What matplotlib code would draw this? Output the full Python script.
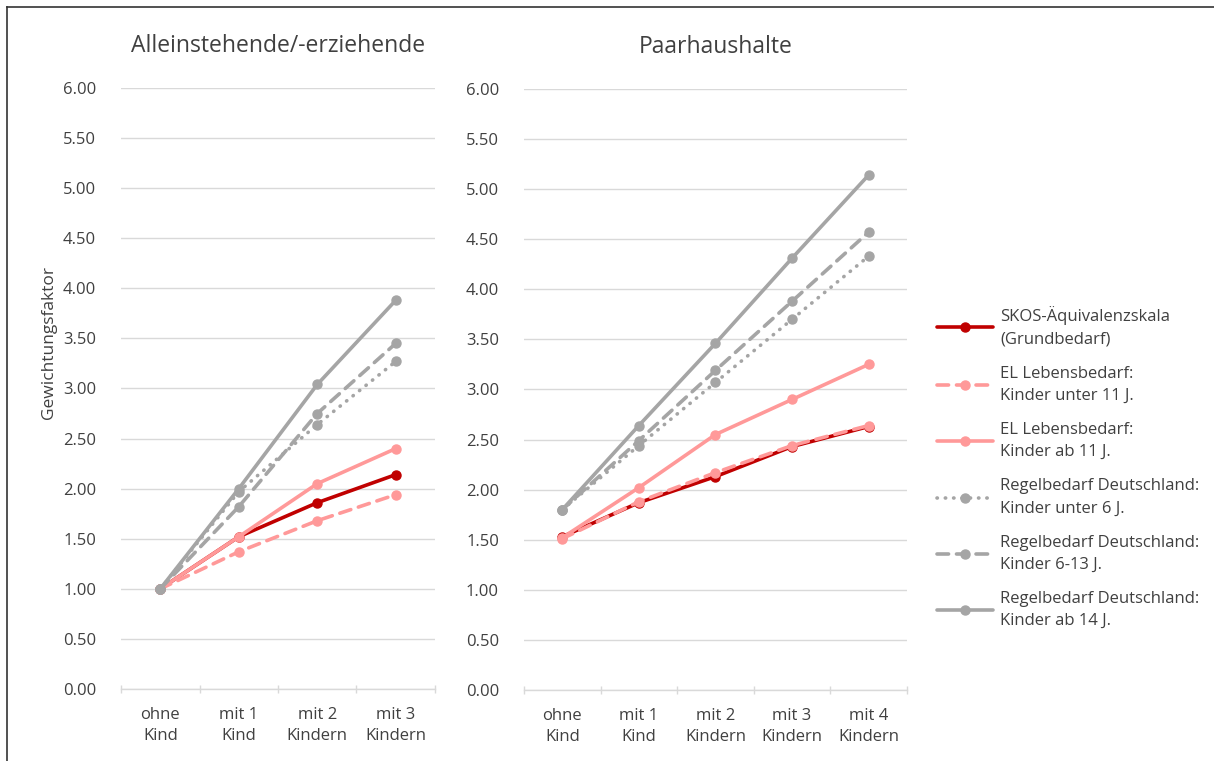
import matplotlib
matplotlib.use('Agg')
import matplotlib.pyplot as plt
from matplotlib.lines import Line2D

plt.rcParams['font.family'] = ['Open Sans', 'DejaVu Sans']

# Daten
cats_single = ['ohne\nKind', 'mit 1\nKind', 'mit 2\nKindern', 'mit 3\nKindern']
cats_pair = ['ohne\nKind', 'mit 1\nKind', 'mit 2\nKindern', 'mit 3\nKindern', 'mit 4\nKindern']

series_names = [
    'SKOS-Äquivalenzskala\n(Grundbedarf)',
    'EL Lebensbedarf:\nKinder unter 11 J.',
    'EL Lebensbedarf:\nKinder ab 11 J.',
    'Regelbedarf Deutschland:\nKinder unter 6 J.',
    'Regelbedarf Deutschland:\nKinder 6-13 J.',
    'Regelbedarf Deutschland:\nKinder ab 14 J.',
]

single_skos = [1.00, 1.52, 1.86, 2.14]
single_el_u11 = [1.00, 1.37, 1.68, 1.94]
single_el_ab11 = [1.00, 1.52, 2.05, 2.40]
single_rb_u6 = [1.00, 1.97, 2.64, 3.27]
single_rb_6_13 = [1.00, 1.82, 2.75, 3.45]
single_rb_ab14 = [1.00, 2.00, 3.04, 3.88]

pair_skos = [1.53, 1.87, 2.13, 2.43, 2.63]
pair_el_u11 = [1.51, 1.88, 2.17, 2.44, 2.64]
pair_el_ab11 = [1.52, 2.02, 2.55, 2.90, 3.25]
pair_rb_u6 = [1.80, 2.44, 3.07, 3.70, 4.33]
pair_rb_6_13 = [1.80, 2.49, 3.19, 3.88, 4.57]
pair_rb_ab14 = [1.80, 2.64, 3.46, 4.31, 5.14]

single_data = [single_skos, single_el_u11, single_el_ab11,
               single_rb_u6, single_rb_6_13, single_rb_ab14]
pair_data = [pair_skos, pair_el_u11, pair_el_ab11,
             pair_rb_u6, pair_rb_6_13, pair_rb_ab14]

# Stile
RED = '#C00000'
PINK = '#FF9999'
GRAY = '#A5A5A5'
TXT = '#404040'
styles = [
    dict(color=RED, ls='-'),
    dict(color=PINK, ls=(0, (3.2, 2.2))),
    dict(color=PINK, ls='-'),
    dict(color=GRAY, ls=(0, (0.1, 2.2))),
    dict(color=GRAY, ls=(0, (3.2, 2.2))),
    dict(color=GRAY, ls='-'),
]

fig = plt.figure(figsize=(12.14, 7.61), dpi=100)
# Rahmen (nur links und oben sichtbar)
fig.add_artist(Line2D([7 / 1214, 7 / 1214], [0, 1 - 7 / 761], transform=fig.transFigure,
                      color='#333333', lw=1.2))
fig.add_artist(Line2D([7 / 1214, 1], [1 - 7 / 761, 1 - 7 / 761], transform=fig.transFigure,
                      color='#333333', lw=1.2))

ax1 = fig.add_axes([0.0997, 0.0946, 0.2586, 0.7898])
ax2 = fig.add_axes([0.4316, 0.0933, 0.3154, 0.7898])


def draw(ax, cats, data, title):
    x = list(range(len(cats)))
    # Excel-Reihenfolge: erste Reihe unten, letzte oben
    for i in range(6):
        st = styles[i]
        ax.plot(x, data[i], color=st['color'], ls=st['ls'], lw=2.6,
                marker='o', ms=6.5, solid_capstyle='round',
                dash_capstyle='round', label=series_names[i], zorder=3 + i)
    ax.set_xlim(-0.5, len(cats) - 0.5)
    ax.set_ylim(0, 6)
    ax.set_yticks([i * 0.5 for i in range(13)])
    ax.set_yticklabels([f'{i * 0.5:.2f}' for i in range(13)])
    ax.set_xticks(x)
    ax.set_xticklabels(cats, fontsize=12, color=TXT, linespacing=1.4)
    ax.set_xticks([i - 0.5 for i in range(len(cats) + 1)], minor=True)
    ax.tick_params(axis='x', which='major', length=0, pad=13)
    ax.tick_params(axis='x', which='minor', length=6, direction='inout',
                   color='#D9D9D9', width=1)
    ax.tick_params(axis='y', length=0, labelsize=12, labelcolor=TXT, pad=18)
    ax.grid(axis='y', color='#D9D9D9', lw=1.0, zorder=0)
    ax.set_axisbelow(True)
    for s in ['top', 'right', 'left']:
        ax.spines[s].set_visible(False)
    ax.spines['bottom'].set_color('#D9D9D9')
    ax.spines['bottom'].set_linewidth(1.0)
    ax.set_title(title, fontsize=16.5, color=TXT, pad=26)


draw(ax1, cats_single, single_data, 'Alleinstehende/-erziehende')
draw(ax2, cats_pair, pair_data, 'Paarhaushalte')
ax1.set_ylabel('Gewichtungsfaktor', fontsize=12.5, color=TXT)
ax1.yaxis.set_label_coords(-0.203, 0.577)

handles, labels = ax2.get_legend_handles_labels()
leg = fig.legend(handles, labels, loc='upper left', bbox_to_anchor=(0.766, 0.606),
                 frameon=False, fontsize=12, labelcolor=TXT, handlelength=3.4,
                 handletextpad=0.4, labelspacing=1.1, borderaxespad=0)
for t in leg.get_texts():
    t.set_linespacing(1.5)

fig.savefig('out.png', dpi=100)
